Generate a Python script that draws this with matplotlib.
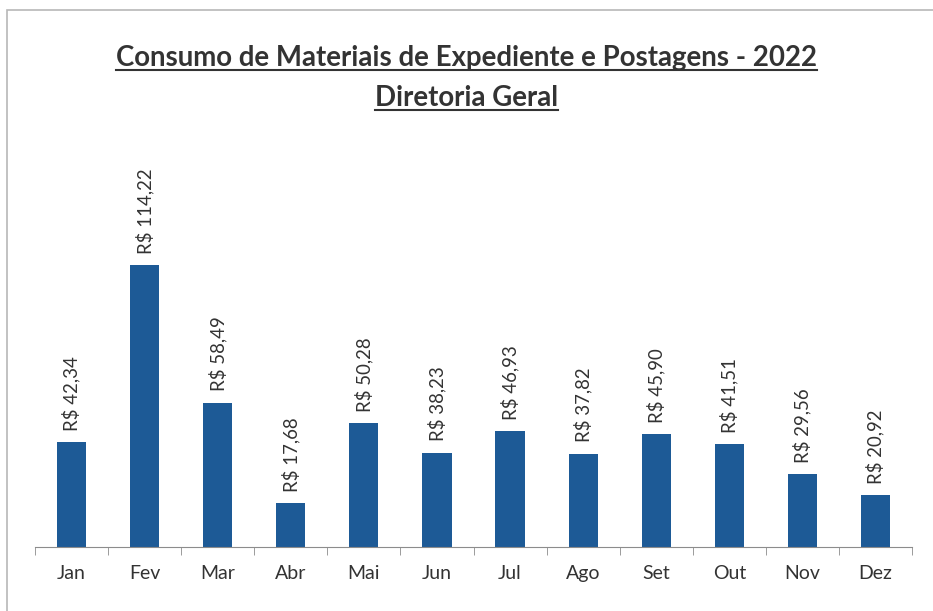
import numpy as np
import matplotlib
matplotlib.use('Agg')
import matplotlib.pyplot as plt
from matplotlib.lines import Line2D
from matplotlib.patches import Rectangle

plt.rcParams['font.family'] = ['Lato', 'DejaVu Sans']

# Dados ---------------------------------
meses = ['Jan', 'Fev', 'Mar', 'Abr', 'Mai', 'Jun', 'Jul', 'Ago', 'Set', 'Out', 'Nov', 'Dez']
valores = [42.34, 114.22, 58.49, 17.68, 50.28, 38.23, 46.93, 37.82, 45.90, 41.51, 29.56, 20.92]

titulo1 = 'Consumo de Materiais de Expediente e Postagens - 2022'
titulo2 = 'Diretoria Geral'

def rotulo(v):
    return 'R$ ' + '{:.2f}'.format(v).replace('.', ',')

W, H = 933, 611
fig = plt.figure(figsize=(W / 100, H / 100), dpi=100)

# moldura do grafico
fig.patches.append(Rectangle((7 / W, -0.1), 1.2, 1 - 10 / H + 0.1, transform=fig.transFigure,
                             fill=False, edgecolor='#b8b8b8', linewidth=1.2))

ax = fig.add_axes([35 / W, 1 - 547 / H, (912 - 35) / W, (547 - 120) / H])
x = np.arange(len(meses))
ax.bar(x, valores, width=0.4, color='#1d5a96')
ax.set_xlim(-0.5, len(meses) - 0.5)
ax.set_ylim(0, 427 / 2.47)

for xi, v in zip(x, valores):
    ax.annotate(rotulo(v), (xi, v), xytext=(0, 8), textcoords='offset points',
                rotation=90, ha='center', va='bottom', fontsize=13.4, color='#333333')

for s in ['top', 'right', 'left']:
    ax.spines[s].set_visible(False)
ax.spines['bottom'].set_color('#8c8c8c')
ax.set_yticks([])
ax.set_xticks(x)
ax.set_xticklabels(meses, fontsize=14, color='#333333')
ax.tick_params(axis='x', length=0, pad=13)
ax.set_xticks(np.arange(-0.5, len(meses)), minor=True)
ax.tick_params(axis='x', which='minor', length=6, color='#8c8c8c', direction='out')

# titulos sublinhados
t1 = fig.text(0.5, 1 - 58 / H, titulo1, ha='center', va='center', fontsize=19.9, fontweight='bold', color='#333333')
t2 = fig.text(0.5, 1 - 98 / H, titulo2, ha='center', va='center', fontsize=19.9, fontweight='bold', color='#333333')
fig.canvas.draw()
r = fig.canvas.get_renderer()
for t in (t1, t2):
    bb = t.get_window_extent(r)
    y = bb.y0 + 1
    fig.add_artist(Line2D([bb.x0 / W, bb.x1 / W], [y / H, y / H], transform=fig.transFigure,
                          color='#333333', linewidth=1.5))

fig.savefig('out.png', dpi=100)
